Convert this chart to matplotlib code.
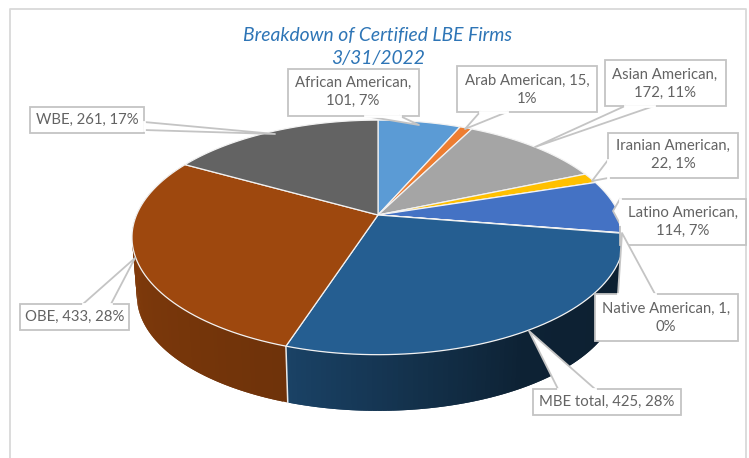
import numpy as np
import matplotlib
matplotlib.use('Agg')
import matplotlib.pyplot as plt
from matplotlib.collections import PolyCollection

plt.rcParams['font.family'] = ['Lato', 'DejaVu Sans']

# slices, clockwise from 12 o'clock
names = ['African American', 'Arab American', 'Asian American', 'Iranian American',
         'Latino American', 'Native American', 'MBE total', 'OBE', 'WBE']
counts = [101, 15, 172, 22, 114, 1, 425, 433, 261]
colors = ['#5b9bd5', '#ed7d31', '#a5a5a5', '#ffc000', '#4472c4',
          '#70ad47', '#255e91', '#9e480e', '#636363']
label_text = ['African American,\n101, 7%', 'Arab American, 15,\n1%', 'Asian American,\n172, 11%',
              'Iranian American,\n22, 1%', 'Latino American,\n114, 7%', 'Native American, 1,\n0%',
              'MBE total, 425, 28%', 'OBE, 433, 28%', 'WBE, 261, 17%']
title = 'Breakdown of Certified LBE Firms\n3/31/2022'

# layout of the callouts in image pixels: box (x0, y0, x1, y1), outline of the pointer, text centre
boxes = {
    'African American': ((288, 69, 419, 116), [(365, 116), (419, 125), (400, 116)], (353, 92)),
    'Arab American': ((457, 66, 597, 112), [(480, 112), (465, 129), (507, 112)], (527, 90)),
    'Asian American': ((605, 60, 726, 106), [(625, 106), (535, 147), (654, 106)], (665, 84)),
    'Iranian American': ((608, 133, 738, 178), [(608, 160), (592, 181), (608, 178)], (673, 155)),
    'Latino American': ((620, 199, 746, 245), [(620, 199), (613, 211), (620, 224)], (683, 222)),
    'Native American': ((595, 294, 738, 341), [(618, 294), (622, 233), (655, 294)], (666, 318)),
    'MBE total': ((533, 389, 681, 415), [(558, 389), (529, 331), (595, 389)], (607, 402)),
    'OBE': ((20, 304, 129, 330), [(83, 304), (135, 258), (111, 304)], (75, 317)),
    'WBE': ((30, 107, 144, 133), [(144, 122), (275, 134), (144, 130)], (87, 120)),
}

# shading of the side wall: clockwise angle -> brightness
side_angle = [100, 150, 198, 198.01, 299]
side_shade = [0.33, 0.36, 0.70, 0.70, 0.88]

CX, CY = 378, 215
A, B, K = 241.5, 113, 0.191
DROP, SHRINK = 59, 0.98


def rim(deg, drop=0, scale=1.0):
    # perspective view of the pie's circle, angle clockwise from the top
    t = np.radians(deg)
    w = 1 + K * np.cos(t)
    return CX + scale * A * np.sin(t) / w, CY + drop - scale * B * np.cos(t) / w


fig = plt.figure(figsize=(7.49, 4.58), dpi=100)
ax = fig.add_axes([0, 0, 1, 1])
ax.set_xlim(0, 749)
ax.set_ylim(458, 0)
ax.axis('off')

# chart frame, open at the bottom
ax.plot([9.5, 9.5, 746, 746], [458, 8.5, 8.5, 458], color='#d9d9d9', lw=1.3, zorder=1)

edges = np.cumsum([0] + counts) / sum(counts) * 360

# side wall, each strip overlaps the next one so no seams show
quads, quad_colors = [], []
for i, c in enumerate(colors):
    steps = np.arange(edges[i], edges[i + 1], 1.0)
    base = np.array(matplotlib.colors.to_rgb(c))
    for a0 in steps:
        if a0 < 97 or a0 > 302:
            continue
        a1 = min(a0 + 2.0, edges[i + 1])
        x0, y0 = rim(a0)
        x1, y1 = rim(a1)
        x2, y2 = rim(a1, DROP, SHRINK)
        x3, y3 = rim(a0, DROP, SHRINK)
        quads.append([(x0, y0), (x1, y1), (x2, y2), (x3, y3)])
        quad_colors.append(base * np.interp(a0 + 0.5, side_angle, side_shade))
ax.add_collection(PolyCollection(quads, facecolors=quad_colors, edgecolors='none', zorder=2))

# white seam between the two visible wall pieces
seam = edges[names.index('OBE')]
ax.plot(*zip(rim(seam), rim(seam, DROP, SHRINK)), color='#e8e8e8', lw=1.1, zorder=3)

# top face
for i, c in enumerate(colors):
    deg = np.linspace(edges[i], edges[i + 1], 60)
    xs, ys = rim(deg)
    ax.fill(np.r_[CX, xs], np.r_[CY, ys], facecolor=c, edgecolor='#f2f2f2', lw=0.9, joinstyle='round', zorder=4)

# callouts
for name, txt in zip(names, label_text):
    (x0, y0, x1, y1), pointer, centre = boxes[name]
    ax.fill([x0, x1, x1, x0], [y0, y0, y1, y1], facecolor='white', edgecolor='#c4c4c4', lw=1.3, zorder=5)
    px, py = zip(*pointer)
    ax.fill(px, py, facecolor='white', edgecolor='none', zorder=6)
    ax.plot(px, py, color='#c4c4c4', lw=1.3, zorder=6)
    ax.plot([px[0], px[-1]], [py[0], py[-1]], color='white', lw=2.0, zorder=6)
    ax.text(centre[0], centre[1], txt, ha='center', va='center', color='#636363',
            fontsize=10.7, linespacing=1.38, zorder=7)

ax.text(378, 47, title, ha='center', va='center', color='#2e75b6', style='italic',
        fontsize=13.9, linespacing=1.42, zorder=8)

fig.savefig('out.png', dpi=100)
